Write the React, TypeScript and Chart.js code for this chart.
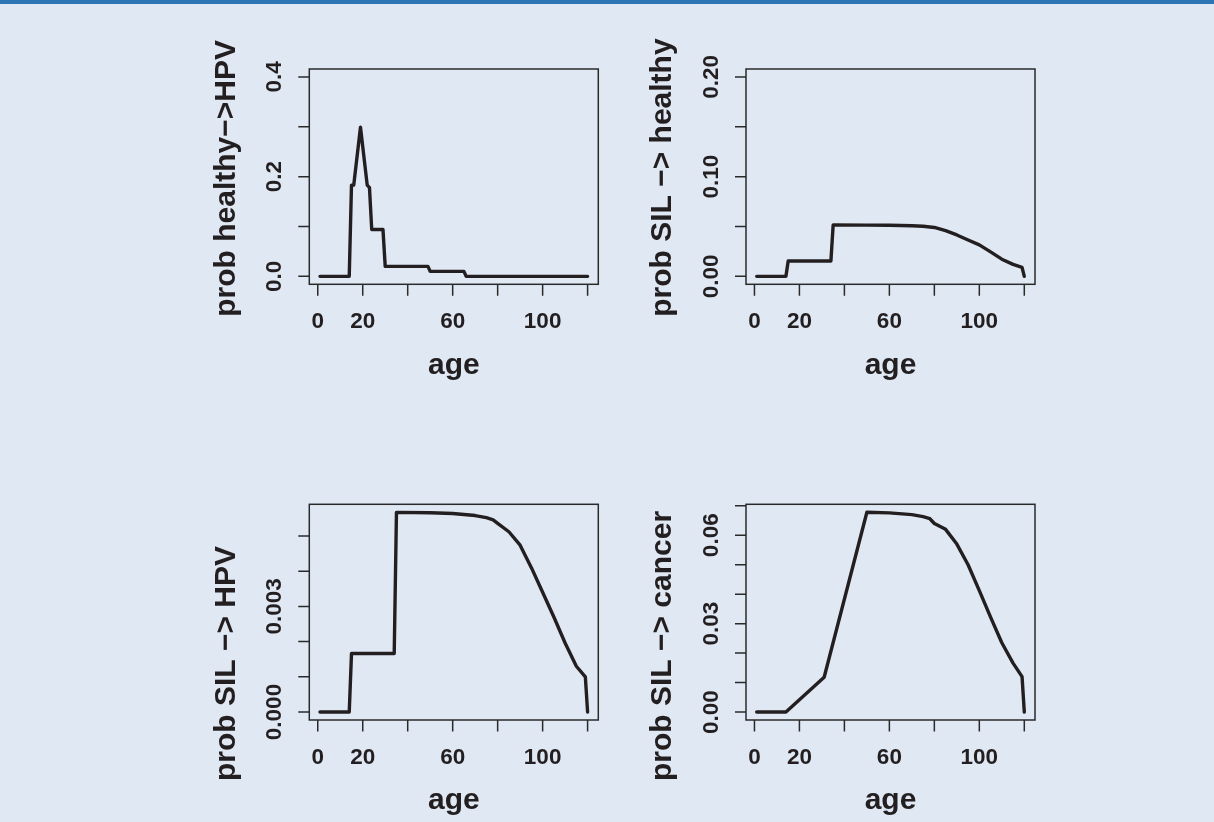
import React, { useEffect, useRef } from "react";
import { Chart, registerables } from "chart.js";
Chart.register(...registerables);

// ---------- data ----------
const AGE_TICKS = [0, 20, 40, 60, 80, 100, 120];
const AGE_LABELS = ["0", "20", "", "60", "", "100", ""];

const P1_AGES = [1, 14, 15, 16, 19, 22, 23, 24, 29, 30, 49, 50, 65, 66, 120];
const P1_VALUES = [0, 0, 0.183, 0.183, 0.299, 0.183, 0.178, 0.094, 0.094, 0.02, 0.02, 0.01, 0.01, 0, 0];
const P1_YTICKS = [0, 0.1, 0.2, 0.3, 0.4];
const P1_YLABELS = ["0.0", "", "0.2", "", "0.4"];

const P2_AGES = [1, 14, 15, 34, 35, 50, 60, 70, 75, 80, 85, 90, 95, 100, 105, 110, 115, 119, 120];
const P2_VALUES = [0, 0, 0.0154, 0.0154, 0.0515, 0.0514, 0.0512, 0.0508, 0.0502, 0.049, 0.0458, 0.0415, 0.0365, 0.0315, 0.0245, 0.0172, 0.012, 0.009, 0];
const P2_YTICKS = [0, 0.05, 0.1, 0.15, 0.2];
const P2_YLABELS = ["0.00", "", "0.10", "", "0.20"];

const P3_AGES = [1, 14, 15, 34, 35, 50, 60, 70, 75, 78, 80, 85, 90, 95, 100, 105, 110, 115, 119, 120];
const P3_VALUES = [0, 0, 0.00166, 0.00166, 0.00567, 0.00566, 0.00564, 0.00558, 0.00552, 0.00546, 0.00536, 0.00512, 0.00474, 0.0041, 0.0034, 0.0027, 0.00196, 0.0013, 0.001, 0];
const P3_YTICKS = [0, 0.001, 0.002, 0.003, 0.004, 0.005];
const P3_YLABELS = ["0.000", "", "", "0.003", "", ""];

const P4_AGES = [1, 14, 31, 50, 60, 70, 75, 78, 80, 85, 90, 95, 100, 105, 110, 115, 119, 120];
const P4_VALUES = [0, 0, 0.0118, 0.0678, 0.0676, 0.067, 0.0663, 0.0656, 0.064, 0.062, 0.057, 0.05, 0.0412, 0.0322, 0.0235, 0.0166, 0.012, 0];
const P4_YTICKS = [0, 0.01, 0.02, 0.03, 0.04, 0.05, 0.06, 0.07];
const P4_YLABELS = ["0.00", "", "", "0.03", "", "", "0.06", ""];

const BG = "#e0e8f4";
const INK = "#231f20";
const FONT = "'Liberation Sans', Arial, Helvetica, sans-serif";
const TICK_FONT = 22.5;
const TITLE_FONT = 30;

type Panel = {
  ages: number[];
  values: number[];
  ymin: number;
  ymax: number;
  yTicks: number[];
  yLabels: string[];
  yTitle: string;
  left: number;
  top: number;
  pad: { left: number; right: number; top: number; bottom: number };
  titleStart: number;
};

const CW = 607;
const CH = 411;

const PANELS: Panel[] = [
  {
    ages: P1_AGES, values: P1_VALUES, ymin: -0.016, ymax: 0.416,
    yTicks: P1_YTICKS, yLabels: P1_YLABELS, yTitle: "prob healthy\u2212>HPV",
    left: 0, top: 0,
    pad: { left: 309.3, right: CW - 598.3, top: 69, bottom: CH - 284.3 },
    titleStart: 32.5,
  },
  {
    ages: P2_AGES, values: P2_VALUES, ymin: -0.008, ymax: 0.208,
    yTicks: P2_YTICKS, yLabels: P2_YLABELS, yTitle: "prob SIL \u2212> healthy",
    left: CW, top: 0,
    pad: { left: 746 - CW, right: 1214 - 1035, top: 69, bottom: CH - 284.3 },
    titleStart: 32.5,
  },
  {
    ages: P3_AGES, values: P3_VALUES, ymin: -0.000227, ymax: 0.0059,
    yTicks: P3_YTICKS, yLabels: P3_YLABELS, yTitle: "prob SIL \u2212> HPV",
    left: 0, top: CH,
    pad: { left: 309.3, right: CW - 598.3, top: 504.3 - CH, bottom: 822 - 720 },
    titleStart: 61,
  },
  {
    ages: P4_AGES, values: P4_VALUES, ymin: -0.0027, ymax: 0.0705,
    yTicks: P4_YTICKS, yLabels: P4_YLABELS, yTitle: "prob SIL \u2212> cancer",
    left: CW, top: CH,
    pad: { left: 746 - CW, right: 1214 - 1035, top: 504.3 - CH, bottom: 822 - 720 },
    titleStart: 61,
  },
];

function PanelChart({ p }: { p: Panel }) {
  const ref = useRef<HTMLCanvasElement | null>(null);
  useEffect(() => {
    const canvas = ref.current;
    if (!canvas) return;
    const axesPlugin = {
      id: "rAxes",
      afterDraw(chart: any) {
        const { ctx, chartArea: ca, scales } = chart;
        const xs = scales.x;
        const ys = scales.y;
        ctx.save();
        ctx.strokeStyle = "#2a2a2a";
        ctx.lineWidth = 1.5;
        ctx.strokeRect(ca.left, ca.top, ca.right - ca.left, ca.bottom - ca.top);
        ctx.beginPath();
        AGE_TICKS.forEach((t) => {
          const px = xs.getPixelForValue(t);
          ctx.moveTo(px, ca.bottom);
          ctx.lineTo(px, ca.bottom + 11.5);
        });
        p.yTicks.forEach((t) => {
          const py = ys.getPixelForValue(t);
          ctx.moveTo(ca.left, py);
          ctx.lineTo(ca.left - 11, py);
        });
        ctx.stroke();
        ctx.fillStyle = INK;
        ctx.font = `bold ${TICK_FONT}px ${FONT}`;
        ctx.textAlign = "center";
        ctx.textBaseline = "alphabetic";
        AGE_TICKS.forEach((t, i) => {
          const lab = AGE_LABELS[i];
          if (!lab) return;
          ctx.fillText(lab, xs.getPixelForValue(t), ca.bottom + 43.6);
        });
        p.yTicks.forEach((t, i) => {
          const lab = p.yLabels[i];
          if (!lab) return;
          ctx.save();
          ctx.translate(ca.left - 28, ys.getPixelForValue(t));
          ctx.rotate(-Math.PI / 2);
          ctx.fillText(lab, 0, 0);
          ctx.restore();
        });
        ctx.font = `bold ${TITLE_FONT}px ${FONT}`;
        ctx.fillText("age", (ca.left + ca.right) / 2, ca.bottom + 89.3);
        ctx.save();
        ctx.translate(ca.left - 74.8, ca.bottom + p.titleStart);
        ctx.rotate(-Math.PI / 2);
        ctx.textAlign = "left";
        ctx.fillText(p.yTitle, 0, 0);
        ctx.restore();
        ctx.restore();
      },
    };
    const chart = new Chart(canvas, {
      type: "line",
      data: {
        datasets: [
          {
            data: p.ages.map((a, i) => ({ x: a, y: p.values[i] })),
            borderColor: INK,
            borderWidth: 3.4,
            pointRadius: 0,
            tension: 0,
            borderCapStyle: "round",
            borderJoinStyle: "round",
            fill: false,
          },
        ],
      },
      options: {
        animation: false,
        responsive: false,
        devicePixelRatio: 1,
        events: [],
        layout: { padding: p.pad },
        plugins: { legend: { display: false }, tooltip: { enabled: false } },
        scales: {
          x: { type: "linear", min: -3.76, max: 124.76, display: false },
          y: { type: "linear", min: p.ymin, max: p.ymax, display: false },
        },
      },
      plugins: [axesPlugin],
    } as any);
    return () => chart.destroy();
  }, [p]);
  return (
    <canvas
      ref={ref}
      width={CW}
      height={CH}
      style={{ position: "absolute", left: p.left, top: p.top, width: CW, height: CH }}
    />
  );
}

export default function App() {
  return (
    <div
      style={{
        position: "absolute",
        left: 0,
        top: 0,
        width: 1214,
        height: 822,
        background: BG,
        overflow: "hidden",
      }}
    >
      <div style={{ position: "absolute", left: 0, top: 0, width: 1214, height: 4, background: "#2e75b6" }} />
      {PANELS.map((p, i) => (
        <PanelChart key={i} p={p} />
      ))}
    </div>
  );
}
